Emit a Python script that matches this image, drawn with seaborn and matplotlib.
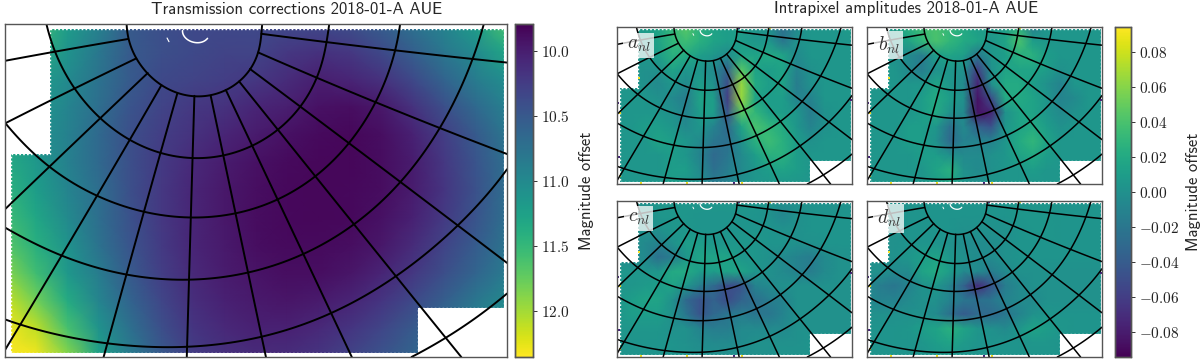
#!/usr/bin/env python3
"""
Transmission corrections and intrapixel amplitudes, 2018-01-A AUE.
Coarse maps read off the picture, gouraud-shaded heatmaps, graticule on top.
"""
import numpy as np
import matplotlib
matplotlib.use("Agg")
import matplotlib.pyplot as plt
from matplotlib.patches import Rectangle
import seaborn as sns

# =====================================================================
# MAP VALUES
# =====================================================================
# Transmission correction, magnitudes
TRANSMISSION = [
    [11.6, 11.6, 11.2, 10.9, 10.5, 10.4, 10.35, 10.35, 10.35, 10.35, 10.35, 10.4, 10.55, 10.75, 10.95, 11.2, 11.6],
    [11.5, 11.4, 11.1, 10.8, 10.5, 10.4, 10.35, 10.3, 10.3, 10.2, 10.15, 10.2, 10.35, 10.55, 10.8, 11.0, 11.3],
    [11.4, 11.2, 11.0, 10.75, 10.5, 10.35, 10.3, 10.25, 10.2, 10.1, 10.0, 10.05, 10.15, 10.35, 10.6, 10.85, 11.05],
    [11.3, 11.15, 10.95, 10.7, 10.45, 10.3, 10.2, 10.15, 10.05, 10.0, 9.9, 9.88, 9.95, 10.15, 10.4, 10.65, 10.9],
    [11.3, 11.1, 10.9, 10.65, 10.4, 10.25, 10.15, 10.05, 9.97, 9.9, 9.85, 9.83, 9.88, 10.02, 10.25, 10.5, 10.8],
    [11.35, 11.15, 10.9, 10.65, 10.4, 10.22, 10.08, 9.98, 9.9, 9.85, 9.83, 9.83, 9.87, 9.98, 10.2, 10.45, 10.72],
    [11.45, 11.2, 10.95, 10.7, 10.4, 10.2, 10.05, 9.95, 9.88, 9.84, 9.83, 9.84, 9.87, 9.98, 10.18, 10.42, 10.7],
    [11.55, 11.3, 11.0, 10.7, 10.42, 10.2, 10.05, 9.95, 9.87, 9.84, 9.83, 9.84, 9.9, 10.02, 10.22, 10.45, 10.72],
    [11.7, 11.4, 11.1, 10.75, 10.45, 10.22, 10.05, 9.96, 9.88, 9.85, 9.85, 9.88, 9.95, 10.1, 10.3, 10.52, 10.78],
    [11.9, 11.55, 11.15, 10.85, 10.5, 10.25, 10.08, 9.98, 9.92, 9.88, 9.88, 9.93, 10.05, 10.2, 10.4, 10.62, 10.85],
    [12.15, 11.8, 11.35, 10.95, 10.6, 10.32, 10.12, 10.02, 9.96, 9.93, 9.97, 10.05, 10.18, 10.35, 10.55, 10.8, 11.0],
    [12.3, 12.1, 11.6, 11.1, 10.72, 10.4, 10.18, 10.08, 10.02, 10.02, 10.08, 10.18, 10.32, 10.5, 10.7, 10.9, 11.1],
    [12.35, 12.3, 11.9, 11.25, 10.85, 10.5, 10.25, 10.15, 10.1, 10.12, 10.18, 10.3, 10.45, 10.62, 10.8, 11.0, 11.2],
]

# Intrapixel amplitudes, in units of 0.001 mag
AMP_A = [
    [5, 5, 10, 15, 30, 45, 25, 15, 10, 10, 5, 0, -25, -5, 5, 5, 5, 10],
    [5, 5, 5, 15, 30, 35, 25, 15, 10, 10, 5, 5, -20, 0, 5, 5, 5, 5],
    [5, 5, 5, 10, 25, 20, 10, 5, -5, 15, 15, 20, 15, -5, 5, 5, 5, 5],
    [5, 5, 0, 0, 15, 5, 5, -5, -35, 45, 15, 10, 15, -10, 0, 5, 5, 5],
    [5, 5, 0, -5, 5, -5, 10, 0, -50, 65, 20, 10, 15, -15, 0, 5, 5, 5],
    [5, 5, 5, 0, -5, -15, 15, 10, -60, 65, 15, 10, 10, -10, -10, 5, 5, 5],
    [5, 5, 5, 5, 0, -10, 10, 10, -45, 45, 30, 12, 10, 5, -15, 0, 5, 5],
    [5, 5, 10, 10, 5, -5, 5, -10, -30, 15, 40, 30, 20, 5, -10, 0, 5, 5],
    [5, 5, 5, 15, 10, 5, -5, -20, -25, 0, 25, 35, 25, 10, 0, 5, 5, 5],
    [5, 5, 5, 5, 10, 5, -10, -30, -20, -5, 10, 25, 25, 10, 5, 5, 5, 5],
    [5, 5, 5, 5, 10, 10, -5, -25, -15, -5, 5, 10, 15, 10, 5, 5, 5, 5],
    [5, 5, 5, 5, 10, 5, 0, -15, -10, 0, 5, 5, 5, 5, 5, 5, 5, 5],
]
AMP_B = [
    [5, 5, 10, 25, 35, 40, 30, 20, 10, 10, 10, 25, -15, 5, 5, 5, 5, 5],
    [5, 5, 5, 15, 30, 40, 30, 20, 15, 5, 15, 40, 10, 5, 5, 5, 5, 5],
    [5, 5, 0, -5, -15, 10, 15, 10, -20, 5, 10, 25, 25, 10, 5, 5, 5, 5],
    [5, 5, 5, -5, -15, 0, 5, 0, -60, 0, 15, 15, 15, 10, 0, 5, 5, 5],
    [5, 5, 5, 5, 5, 15, 5, -5, -75, 0, 20, 20, 10, 0, -10, 5, 5, 5],
    [5, 5, 5, 5, 10, 20, 10, 0, -85, -50, 20, 20, 15, 5, -10, -5, 5, 5],
    [5, 5, 5, 5, 10, 20, 0, -5, -85, -75, 0, 15, 15, 5, -5, 0, 5, 5],
    [5, 5, 5, 10, 10, 5, -25, -5, -35, -45, 5, 15, 20, 10, 0, 5, 5, 5],
    [5, 5, 5, 10, 10, 0, -30, -10, -10, -10, 5, 20, 30, 15, 5, 5, 5, 5],
    [5, 5, 5, 5, 10, 10, 0, -5, -5, 0, 5, 15, 20, 10, 5, 5, 5, 5],
    [5, 5, 5, 5, 5, 15, 25, 0, -5, 0, 5, 5, 10, 5, 5, 5, 5, 5],
    [5, 5, 5, 5, 5, 10, 15, 5, 0, 5, 5, 5, 5, 5, 5, 5, 5, 5],
]
AMP_C = [
    [0, 0, 0, 5, 5, 5, 5, 5, 5, 5, 5, 5, 0, 0, 0, 0, 0, 0],
    [0, 0, 0, 5, 5, 5, 3, 3, 3, 3, 3, 0, -8, 0, 3, 3, 3, 3],
    [0, 0, 0, 0, 5, 5, 3, 3, 3, 3, 3, 3, 0, 0, 3, 3, 3, 3],
    [0, 0, -5, -10, 0, 10, 10, 5, 5, 5, 5, 3, 3, 0, 0, 3, 3, 3],
    [0, -5, -5, -25, -15, 5, 15, 15, 15, 5, 5, 0, -5, -10, -15, -5, 0, 0],
    [5, 5, 5, 5, 20, 20, 10, 10, 15, 15, 5, 0, -5, -10, -15, -5, 0, 0],
    [5, 5, 8, 10, 15, 5, -15, -30, -50, -45, -10, -5, 0, 0, 0, 0, 0, 0],
    [5, 10, 15, 15, 0, -30, -45, -35, -50, -35, -25, -15, -10, 0, 0, 0, 0, 0],
    [5, 10, 10, 10, 0, -20, -45, -30, -20, -15, -20, -20, -10, 0, 0, 0, 0, 0],
    [5, 5, 5, 5, 0, 0, -10, -15, -15, -5, -5, -5, -5, 0, 0, 0, 0, 0],
    [3, 3, 3, 3, 3, 0, -3, -5, -5, -3, 0, 0, 0, 0, 3, 3, 3, 3],
    [3, 3, 3, 3, 3, 3, 0, 0, 0, 0, 0, 0, 3, 3, 3, 3, 3, 3],
]
AMP_D = [
    [0, 0, 0, 3, 3, 3, 3, 3, 3, 3, 3, 3, 3, 3, 3, 3, 3, 3],
    [0, 0, 0, 3, 3, 3, 3, 3, 3, 3, 3, 5, 5, 5, 3, 3, 3, 3],
    [0, 0, 0, 3, 3, 3, 3, 0, 0, 0, 0, 3, 5, 5, 3, 3, 3, 3],
    [0, 0, 0, 3, 3, 3, 0, -3, -3, -3, 0, 3, 3, 3, 3, 3, 3, 3],
    [0, 0, 0, 5, 10, 15, 5, 0, -3, -3, 0, 3, 3, 3, 3, 3, 3, 3],
    [0, 0, -5, -5, 15, 20, 10, -5, -5, -15, -5, 0, 0, 0, 0, 0, 0, 0],
    [-5, -15, -20, -10, 0, 5, -10, -35, -70, -45, -15, -5, 0, 0, 0, 0, 0, 0],
    [-5, -10, -10, -5, 0, 0, -10, -20, -25, -20, -10, -5, -5, 0, 0, 0, 0, 0],
    [0, 0, 0, 0, 0, -5, -25, -40, -30, -30, -20, -10, 0, 5, 3, 3, 3, 3],
    [3, 3, 3, 5, 10, 15, 25, 15, 5, 0, -5, 5, 15, 10, 5, 3, 3, 3],
    [3, 3, 3, 3, 5, 10, 15, 8, 3, 3, 3, 3, 5, 5, 3, 3, 3, 3],
    [3, 3, 3, 3, 3, 5, 5, 3, 3, 3, 3, 3, 3, 3, 3, 3, 3, 3],
]

TRANS_TICKS = [10.0, 10.5, 11.0, 11.5, 12.0]
AMP_TICKS = [0.08, 0.06, 0.04, 0.02, 0.00, -0.02, -0.04, -0.06, -0.08]
PANEL_LABELS = ["$a_{nl}$", "$b_{nl}$", "$c_{nl}$", "$d_{nl}$"]

# Stray edge pixels in the amplitude maps, sheet units
SPECK_YELLOW_X = [400, 30, 135, 862, 705, 30, 145]
SPECK_YELLOW_Y = [1066, 1020, 400, 84, 1066, 620, 1066]
SPECK_PURPLE_X = [665, 22, 1312, 690, 25]
SPECK_PURPLE_Y = [1066, 560, 540, 84, 900]

# =====================================================================
# GRATICULE, in a sheet of 1304 x 997 units (origin 14, 75)
# =====================================================================
ARCS = [
    [(330, 75), (340, 140), (355, 178), (385, 222), (420, 258), (462, 282), (505, 290),
     (548, 290), (588, 272), (622, 247), (650, 210), (672, 160), (680, 105), (682, 75)],
    [(122, 75), (143, 158), (195, 268), (262, 355), (338, 423), (418, 460), (503, 477),
     (582, 470), (655, 440), (722, 390), (782, 322), (822, 235), (852, 128), (855, 75)],
    [(15, 372), (130, 503), (253, 590), (375, 635), (497, 655), (613, 643), (722, 600),
     (820, 530), (908, 432), (975, 310), (1028, 155), (1040, 75)],
    [(15, 685), (160, 768), (330, 825), (490, 840), (645, 820), (790, 763), (920, 675),
     (1040, 548), (1145, 385), (1228, 180), (1258, 75)],
    [(15, 960), (55, 975), (270, 1030), (430, 1043), (487, 1040), (690, 1010), (860, 940),
     (1030, 830), (1190, 678), (1318, 510)],
    [(1070, 1072), (1158, 1015), (1318, 882)],
]
MERIDIANS = [
    [(333, 120), (143, 158), (15, 185)],
    [(355, 178), (195, 268), (15, 372)],
    [(385, 222), (262, 355), (130, 503), (15, 628)],
    [(420, 258), (338, 423), (253, 590), (160, 768), (55, 975), (14, 1050)],
    [(462, 282), (418, 460), (375, 635), (330, 825), (270, 1072)],
    [(505, 290), (503, 477), (497, 655), (490, 840), (487, 1072)],
    [(548, 290), (582, 470), (613, 643), (645, 820), (692, 1072)],
    [(588, 272), (655, 440), (722, 600), (790, 763), (860, 940), (915, 1072)],
    [(622, 247), (722, 390), (820, 530), (920, 675), (1030, 830), (1158, 1015), (1200, 1072)],
    [(650, 210), (782, 322), (908, 432), (1040, 548), (1190, 678), (1318, 790)],
    [(672, 160), (822, 235), (975, 310), (1145, 385), (1318, 465)],
    [(680, 105), (852, 128), (1028, 155), (1228, 180), (1318, 190)],
]
# Areas with no exposures: x0, y0, x1, y1
NO_DATA = [
    (14, 75, 1318, 90), (14, 75, 132, 465), (14, 75, 30, 1072),
    (1310, 75, 1318, 1072), (14, 1060, 1318, 1072), (1087, 925, 1318, 1072),
]
COVERAGE_EDGE = [(132, 90), (1310, 90), (1310, 925), (1087, 925), (1087, 1060),
                 (30, 1060), (30, 465), (132, 465), (132, 90)]
SWIRL = [(475, 95), (482, 115), (498, 128), (515, 131), (530, 127), (540, 118)]
SWIRL_TICK = [(435, 117), (440, 128)]

SHEET_X0, SHEET_Y0, SHEET_W, SHEET_H = 14, 75, 1304, 997

# =====================================================================
# PLOTTING
# =====================================================================
sns.set_theme(style="white")
plt.rcParams["font.family"] = ["cmss10", "DejaVu Sans"]
plt.rcParams["mathtext.fontset"] = "cm"
plt.rcParams["axes.unicode_minus"] = False

W, H = 1200, 362
EDGE = "#555555"


def px_axes(fig, x0, y0, x1, y1):
    """Axes from picture pixels (y down)."""
    return fig.add_axes([x0 / W, 1 - y1 / H, (x1 - x0) / W, (y1 - y0) / H])


def to_grid(points, nrows, ncols):
    pts = np.array(points, dtype=float)
    gx = (pts[:, 0] - SHEET_X0) / SHEET_W * (ncols - 1)
    gy = (pts[:, 1] - SHEET_Y0) / SHEET_H * (nrows - 1)
    return gx, gy


def smooth_line(points, deg):
    """Smooth read-off graticule points along their chord length."""
    pts = np.array(points, dtype=float)
    t = np.r_[0, np.cumsum(np.hypot(*np.diff(pts, axis=0).T))]
    t = t / t[-1]
    deg = min(deg, len(pts) - 1)
    tt = np.linspace(0, 1, 120)
    return list(zip(np.polyval(np.polyfit(t, pts[:, 0], deg), tt),
                    np.polyval(np.polyfit(t, pts[:, 1], deg), tt)))


def draw_map(ax, values, cax, cmap, vmin, vmax, line_w, specks=False):
    values = np.array(values, dtype=float)
    nrows, ncols = values.shape
    sns.heatmap(values, ax=ax, cmap=cmap, vmin=vmin, vmax=vmax, shading="gouraud",
                xticklabels=False, yticklabels=False,
                cbar=cax is not None, cbar_ax=cax)
    ax.set_xlim(0, ncols - 1)
    ax.set_ylim(nrows - 1, 0)
    for x0, y0, x1, y1 in NO_DATA:
        (gx0, gx1), (gy0, gy1) = to_grid([(x0, y0), (x1, y1)], nrows, ncols)
        ax.add_patch(Rectangle((gx0, gy0), gx1 - gx0, gy1 - gy0, fc="white", ec="none", zorder=1.5))
    gx, gy = to_grid(COVERAGE_EDGE, nrows, ncols)
    ax.plot(gx, gy, color="white", lw=1.0, ls=(0, (1.2, 1.6)), zorder=1.6)
    if specks:
        for xs, ys, col in [(SPECK_YELLOW_X, SPECK_YELLOW_Y, "#f5e11e"),
                            (SPECK_PURPLE_X, SPECK_PURPLE_Y, "#46247a")]:
            gx, gy = to_grid(list(zip(xs, ys)), nrows, ncols)
            ax.scatter(gx, gy, s=3, color=col, marker="s", linewidths=0, zorder=1.65)
    gx, gy = to_grid(smooth_line(SWIRL, 3), nrows, ncols)
    ax.plot(gx, gy, color="white", lw=line_w * 0.8, zorder=1.7)
    gx, gy = to_grid(SWIRL_TICK, nrows, ncols)
    ax.plot(gx, gy, color="white", lw=line_w * 0.6, zorder=1.7)
    for arc in ARCS:
        gx, gy = to_grid(smooth_line(arc, 6), nrows, ncols)
        ax.plot(gx, gy, color="black", lw=line_w, zorder=2)
    for mer in MERIDIANS:
        gx, gy = to_grid(smooth_line(mer, 2), nrows, ncols)
        ax.plot(gx, gy, color="black", lw=line_w, zorder=2)
    for spine in ax.spines.values():
        spine.set_visible(True)
        spine.set_color(EDGE)
        spine.set_linewidth(1.0)
        spine.set_zorder(3)


def style_cbar(cax, ticks, fmt, label_x, invert=False):
    cax.set_yticks(ticks)
    cax.set_yticklabels([fmt.format(t) for t in ticks], fontsize=11, color="#222222")
    cax.tick_params(axis="y", length=3, width=0.7, color="#333333", pad=3, left=False, right=True)
    if invert:
        cax.invert_yaxis()
    for spine in cax.spines.values():
        spine.set_visible(True)
        spine.set_color(EDGE)
        spine.set_linewidth(1.0)
    cax.set_ylabel("Magnitude offset", fontsize=12)
    cax.yaxis.set_label_coords(label_x, 0.5)


fig = plt.figure(figsize=(W / 100, H / 100), dpi=100)

# Left: transmission corrections
ax = px_axes(fig, 5, 24, 507, 357)
cax = px_axes(fig, 515, 24, 533, 357)
draw_map(ax, TRANSMISSION, cax, "viridis", 9.79, 12.35, 1.4)
style_cbar(cax, TRANS_TICKS, "${:.1f}$", 3.55, invert=True)

# Right: intrapixel amplitudes, stored in 0.001 mag
amps = [AMP_A, AMP_B, AMP_C, AMP_D]
boxes = [(617, 27, 852, 184), (867, 27, 1102, 184), (617, 200.5, 852, 357), (867, 200.5, 1102, 357)]
cax = px_axes(fig, 1115, 27, 1131, 357)
for i, (amp, box, lab) in enumerate(zip(amps, boxes, PANEL_LABELS)):
    ax = px_axes(fig, *box)
    draw_map(ax, np.array(amp) / 1000, cax if i == 0 else None, "viridis", -0.094, 0.094, 1.1, specks=True)
    ax.text(0.092, 0.885, lab, transform=ax.transAxes, ha="center", va="center",
            fontsize=14, color="#333333", zorder=5,
            bbox=dict(boxstyle="square,pad=0.18", fc="white", ec="none", alpha=0.75))
style_cbar(cax, AMP_TICKS, "${:.2f}$", 4.44)

fig.text(297 / W, 1 - 9 / H, "Transmission corrections 2018-01-A AUE",
         ha="center", va="center", fontsize=12.1)
fig.text(906 / W, 1 - 9 / H, "Intrapixel amplitudes 2018-01-A AUE",
         ha="center", va="center", fontsize=12.1)

fig.savefig("out.png", dpi=100)
plt.close(fig)
print("  [SAVED] out.png")
